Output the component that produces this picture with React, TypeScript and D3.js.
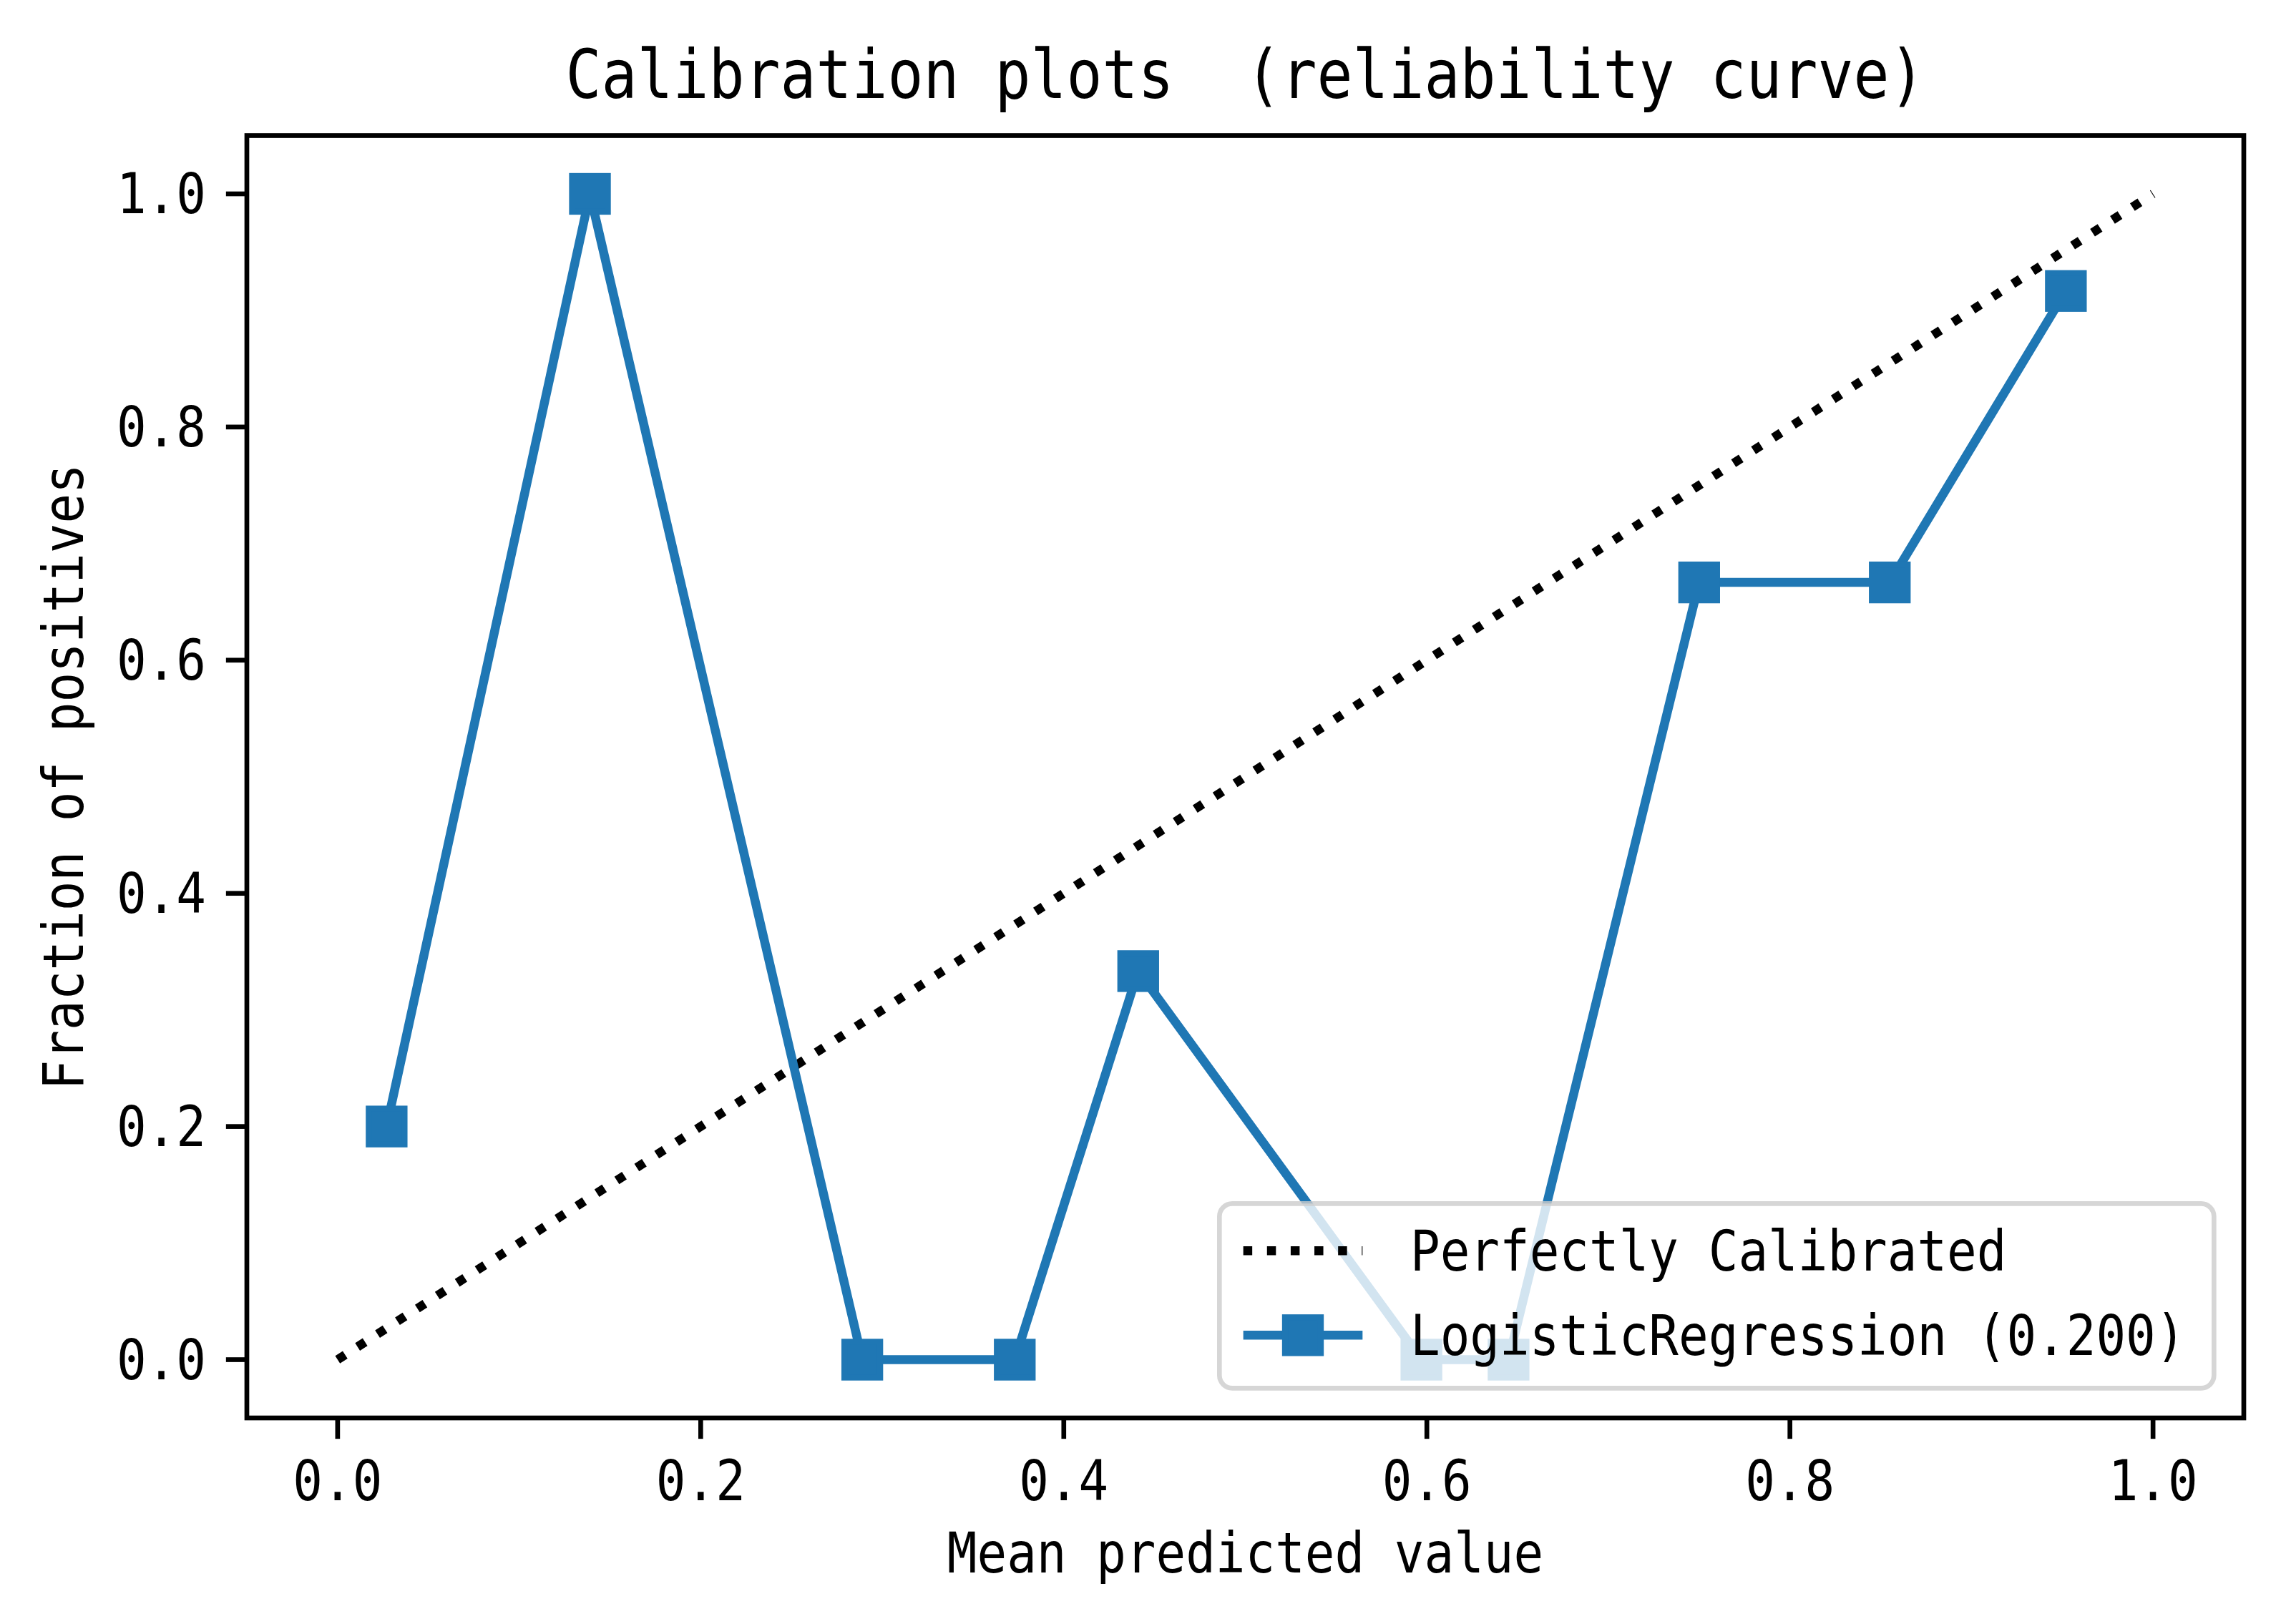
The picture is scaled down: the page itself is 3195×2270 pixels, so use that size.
import React from "react";
import * as d3 from "d3";

// ---- data ----
const meanPredicted = [0.027, 0.139, 0.289, 0.373, 0.441, 0.597, 0.645, 0.75, 0.855, 0.952];
const fractionPositives = [0.2, 1.0, 0.0, 0.0, 0.3333, 0.0, 0.0, 0.6667, 0.6667, 0.9167];
const diagonalX = [0, 1];
const diagonalY = [0, 1];
const xTicks = [0.0, 0.2, 0.4, 0.6, 0.8, 1.0];
const yTicks = [0.0, 0.2, 0.4, 0.6, 0.8, 1.0];
const titleText = "Calibration plots  (reliability curve)";
const xLabel = "Mean predicted value";
const yLabel = "Fraction of positives";
const legendLabels = ["Perfectly Calibrated", "LogisticRegression (0.200)"];

// ---- layout ----
const W = 3195;
const H = 2270;
const PT = 600 / 72; // px per point
const AX = { left: 345, right: 3136, top: 189.5, bottom: 1982 };
const BLUE = "#1f77b4";
const FONT = "'DejaVu Sans Mono', 'Liberation Mono', monospace";
const SMALL = 79; // tick / label font size
const SMALL_UNIT = 41.67; // advance per char
const BIG = 94;
const BIG_UNIT = 50;

function MonoText(props: {
  x: number;
  y: number;
  text: string;
  size: number;
  unit: number;
  anchor?: string;
  transform?: string;
}) {
  const { x, y, text, size, unit, anchor = "start", transform } = props;
  return (
    <text
      x={x}
      y={y}
      fontFamily={FONT}
      fontSize={size}
      textAnchor={anchor}
      textLength={text.length * unit}
      lengthAdjust="spacingAndGlyphs"
      transform={transform}
      fill="#000"
      xmlSpace="preserve"
      style={{ whiteSpace: "pre" }}
    >
      {text}
    </text>
  );
}

export default function App() {
  const x = d3.scaleLinear().domain([-0.05, 1.05]).range([AX.left, AX.right]);
  const y = d3.scaleLinear().domain([-0.05, 1.05]).range([AX.bottom, AX.top]);

  const lineGen = d3
    .line<[number, number]>()
    .x((d) => x(d[0]))
    .y((d) => y(d[1]));

  const diagPts = diagonalX.map((v, i) => [v, diagonalY[i]] as [number, number]);
  const curvePts = meanPredicted.map((v, i) => [v, fractionPositives[i]] as [number, number]);

  const lw = 1.5 * PT;
  const dotDash = `${1 * lw} ${1.65 * lw}`;
  const markerSize = 6 * PT;
  const markerEdge = 1 * PT;
  const spineW = 0.8 * PT;
  const tickLen = 3.5 * PT;

  const fmt = d3.format(".1f");

  // legend layout
  const fs = SMALL_UNIT * 2;
  const pad = 0.5 * fs; // borderaxespad
  const legRight = AX.right - pad;
  const legBottom = AX.bottom - pad;
  const legW = 1390;
  const legH = 258;
  const legLeft = legRight - legW;
  const legTop = legBottom - legH;
  const handleX0 = legLeft + 0.4 * fs;
  const handleX1 = handleX0 + 2.0 * fs;
  const textX = handleX1 + 0.8 * fs;
  const rowY = [legTop + 66, legTop + 184];

  return (
    <svg
      width={W}
      height={H}
      viewBox={`0 0 ${W} ${H}`}
      style={{ position: "absolute", left: 0, top: 0, background: "#fff" }}
    >
      <rect x={0} y={0} width={W} height={H} fill="#fff" />

      <defs>
        <clipPath id="axclip">
          <rect x={AX.left} y={AX.top} width={AX.right - AX.left} height={AX.bottom - AX.top} />
        </clipPath>
      </defs>

      <g clipPath="url(#axclip)">
        <path
          d={lineGen(diagPts) || ""}
          fill="none"
          stroke="#000"
          strokeWidth={lw}
          strokeDasharray={dotDash}
          strokeLinecap="butt"
        />
        <path
          d={lineGen(curvePts) || ""}
          fill="none"
          stroke={BLUE}
          strokeWidth={lw}
          strokeLinejoin="round"
          strokeLinecap="square"
        />
        {curvePts.map((p, i) => (
          <rect
            key={i}
            x={x(p[0]) - markerSize / 2}
            y={y(p[1]) - markerSize / 2}
            width={markerSize}
            height={markerSize}
            fill={BLUE}
            stroke={BLUE}
            strokeWidth={markerEdge}
          />
        ))}
      </g>

      {/* spines */}
      <rect
        x={AX.left}
        y={AX.top}
        width={AX.right - AX.left}
        height={AX.bottom - AX.top}
        fill="none"
        stroke="#000"
        strokeWidth={spineW}
      />

      {/* x ticks */}
      {xTicks.map((t) => (
        <g key={"x" + t}>
          <line x1={x(t)} x2={x(t)} y1={AX.bottom} y2={AX.bottom + tickLen} stroke="#000" strokeWidth={spineW} />
          <MonoText x={x(t)} y={2097} text={fmt(t)} size={SMALL} unit={SMALL_UNIT} anchor="middle" />
        </g>
      ))}

      {/* y ticks */}
      {yTicks.map((t) => (
        <g key={"y" + t}>
          <line x1={AX.left} x2={AX.left - tickLen} y1={y(t)} y2={y(t)} stroke="#000" strokeWidth={spineW} />
          <MonoText x={288} y={y(t) + 27} text={fmt(t)} size={SMALL} unit={SMALL_UNIT} anchor="end" />
        </g>
      ))}

      {/* axis labels */}
      <MonoText x={(AX.left + AX.right) / 2} y={2198} text={xLabel} size={SMALL} unit={SMALL_UNIT} anchor="middle" />
      <MonoText
        x={0}
        y={0}
        text={yLabel}
        size={SMALL}
        unit={SMALL_UNIT}
        anchor="middle"
        transform={`translate(116, ${(AX.top + AX.bottom) / 2}) rotate(-90)`}
      />

      {/* title */}
      <MonoText x={(AX.left + AX.right) / 2} y={137} text={titleText} size={BIG} unit={BIG_UNIT} anchor="middle" />

      {/* legend */}
      <rect
        x={legLeft}
        y={legTop}
        width={legW}
        height={legH}
        rx={18}
        ry={18}
        fill="#fff"
        fillOpacity={0.8}
        stroke="#cccccc"
        strokeOpacity={0.8}
        strokeWidth={spineW}
      />
      <line
        x1={handleX0}
        x2={handleX1}
        y1={rowY[0]}
        y2={rowY[0]}
        stroke="#000"
        strokeWidth={lw}
        strokeDasharray={dotDash}
        strokeLinecap="butt"
      />
      <line x1={handleX0} x2={handleX1} y1={rowY[1]} y2={rowY[1]} stroke={BLUE} strokeWidth={lw} />
      <rect
        x={(handleX0 + handleX1) / 2 - markerSize / 2}
        y={rowY[1] - markerSize / 2}
        width={markerSize}
        height={markerSize}
        fill={BLUE}
        stroke={BLUE}
        strokeWidth={markerEdge}
      />
      {legendLabels.map((lab, i) => (
        <MonoText key={lab} x={textX} y={rowY[i] + 28} text={lab} size={SMALL} unit={SMALL_UNIT} />
      ))}
    </svg>
  );
}
